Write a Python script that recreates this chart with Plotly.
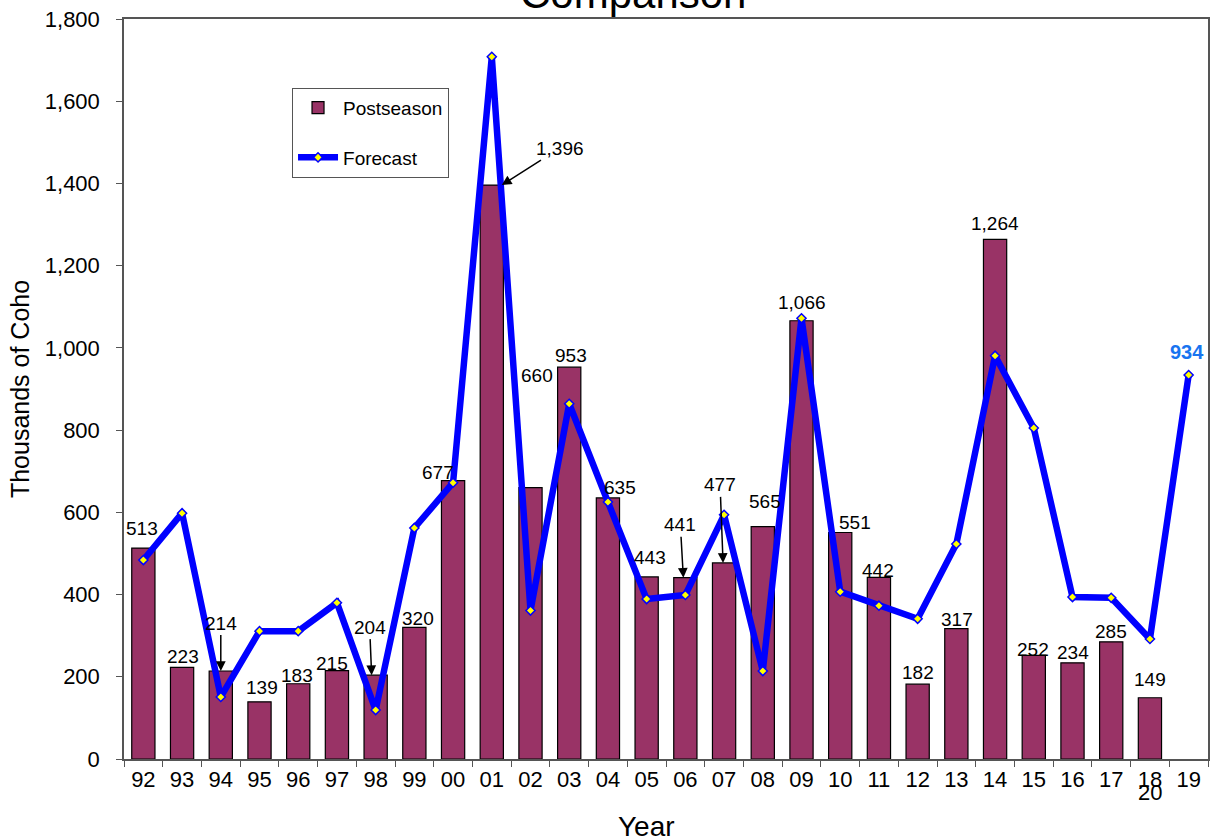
import plotly.graph_objects as go

years = ['92', '93', '94', '95', '96', '97', '98', '99', '00', '01', '02', '03', '04', '05',
         '06', '07', '08', '09', '10', '11', '12', '13', '14', '15', '16', '17', '18', '19']
post_years = years[:-1]
postseason = [513, 223, 214, 139, 183, 215, 204, 320, 677, 1396, 660, 953, 635, 443,
              441, 477, 565, 1066, 551, 442, 182, 317, 1264, 252, 234, 285, 149]
forecast = [484, 598, 151, 311, 311, 380, 119, 562, 672, 1708, 361, 864, 625, 389,
            399, 594, 214, 1072, 407, 373, 341, 523, 981, 805, 394, 392, 292, 934]

# label nudges in pixels (dx, dy) relative to bar top
label_nudge = {
    '92': (-1, 20), '93': (1, 11), '95': (2, 14), '96': (-1, 8), '97': (-5, 7),
    '99': (4, 9), '00': (-15, 8), '02': (6, 112), '03': (2, 12), '04': (12, 10),
    '05': (3, 19), '08': (2, 25), '09': (0, 18), '10': (15, 10), '11': (-1, 7),
    '12': (0, 12), '13': (1, 9), '14': (0, 16), '15': (-1, 6), '16': (0, 10),
    '17': (0, 10), '18': (0, 18),
}
# arrowed labels: (xshift of tip, ax, ay)
arrow_labels = {
    '94': (0, 0, -48), '98': (-4, -2, -48), '06': (-2, -3, -53),
    '07': (-1, -3, -78), '01': (10, 58, -37),
}

FONT = 'Liberation Sans, Arial, sans-serif'

fig = go.Figure()
fig.add_trace(go.Bar(
    x=post_years, y=postseason, name='Postseason',
    marker=dict(color='#993366', line=dict(color='black', width=1.2)),
    legendgroup='a',
))
fig.add_trace(go.Scatter(
    x=years, y=forecast, name='Forecast', mode='lines+markers',
    line=dict(color='#0000ff', width=6.5),
    marker=dict(symbol='diamond', size=7, color='#ffff00', line=dict(color='#0000ff', width=1.5)),
    legendgroup='b',
))

annotations = []
for i, (yr, v) in enumerate(zip(post_years, postseason)):
    txt = f'{v:,}'
    if yr in arrow_labels:
        xs, ax, ay = arrow_labels[yr]
        annotations.append(dict(x=i, y=v, text=txt, xshift=xs, ax=ax, ay=ay,
                                showarrow=True, arrowhead=2, arrowsize=1.3,
                                arrowwidth=1.5, arrowcolor='black',
                                font=dict(size=19, color='black', family=FONT)))
    else:
        dx, dy = label_nudge[yr]
        annotations.append(dict(x=i, y=v, text=txt, xshift=dx, yshift=dy,
                                yanchor='middle', showarrow=False,
                                font=dict(size=19, color='black', family=FONT)))

annotations.append(dict(x=len(years) - 1, y=forecast[-1], text=f'<b>{forecast[-1]}</b>',
                        xshift=-2, yshift=23, yanchor='middle', showarrow=False,
                        font=dict(size=20, color='#1874f0', family=FONT)))
annotations.append(dict(x=0.47, y=1, xref='paper', yref='paper', text='Comparison',
                        yanchor='bottom', yshift=0, showarrow=False,
                        font=dict(size=42, color='black', family=FONT)))
annotations.append(dict(x=years.index('18'), y=0, yref='paper', text='20', yanchor='top',
                        yshift=-19, showarrow=False,
                        font=dict(size=22, color='black', family=FONT)))
annotations.append(dict(x=0.482, y=0, xref='paper', yref='paper', text='Year',
                        yanchor='top', yshift=-50, showarrow=False,
                        font=dict(size=28, color='black', family=FONT)))

fig.update_layout(
    width=1215, height=838,
    margin=dict(l=124, r=7, t=19, b=79),
    paper_bgcolor='white', plot_bgcolor='white',
    font=dict(family=FONT, color='black'),
    bargap=0.4,
    showlegend=True,
    legend=dict(x=0.155, y=0.907, xanchor='left', yanchor='top',
                bgcolor='white', bordercolor='#555', borderwidth=1,
                font=dict(size=19, family=FONT), tracegroupgap=22,
                itemwidth=40),
    annotations=annotations,
    xaxis=dict(type='category', categoryorder='array', categoryarray=years,
               range=[-0.5, len(years) - 0.5], tickangle=0, dtick=1,
               tickson='boundaries', ticks='outside', ticklen=6, tickcolor='#555',
               showline=True, linecolor='#555', linewidth=1.5, mirror=True,
               tickfont=dict(size=22), showgrid=False, automargin=False),
    yaxis=dict(range=[0, 1800], dtick=200, tickformat=',d',
               ticks='outside', ticklen=6, tickcolor='#555', ticklabelstandoff=12,
               showline=True, linecolor='#555', linewidth=1.5, mirror=True,
               tickfont=dict(size=22), showgrid=False, zeroline=False, automargin=False,
               title=dict(text='Thousands of Coho', font=dict(size=25), standoff=8)),
)

# drop the default page margin so the figure sits at the window's corner
fig.write_html('out.html', config={'displayModeBar': False},
               post_script="document.body.style.margin='0';")
